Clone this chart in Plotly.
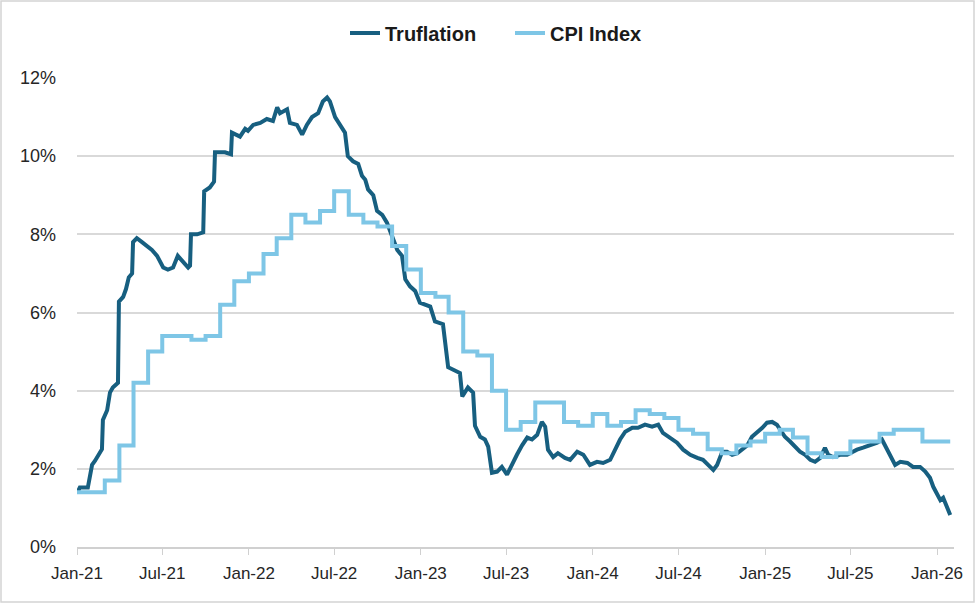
import plotly.graph_objects as go

# ---------------- data ----------------
tru_dates = [
    "2021-01-01", "2021-01-07", "2021-01-24", "2021-02-02", "2021-02-08", "2021-02-23", "2021-02-25",
    "2021-03-06", "2021-03-12", "2021-03-18", "2021-03-29", "2021-03-31", "2021-04-09", "2021-04-15",
    "2021-04-21", "2021-04-28", "2021-04-30", "2021-05-08", "2021-05-19", "2021-05-30", "2021-06-09",
    "2021-06-20", "2021-06-26", "2021-07-03", "2021-07-13", "2021-07-24", "2021-08-03", "2021-08-14",
    "2021-08-25", "2021-08-29", "2021-08-31", "2021-09-13", "2021-09-26", "2021-09-28", "2021-10-10",
    "2021-10-19", "2021-10-21", "2021-11-11", "2021-11-24", "2021-11-26", "2021-12-13", "2021-12-24",
    "2021-12-30", "2022-01-10", "2022-01-25", "2022-02-08", "2022-02-21", "2022-03-02", "2022-03-08",
    "2022-03-23", "2022-03-29", "2022-04-13", "2022-04-24", "2022-05-04", "2022-05-15", "2022-05-28",
    "2022-06-07", "2022-06-16", "2022-06-22", "2022-07-03", "2022-07-13", "2022-07-24", "2022-07-30",
    "2022-08-10", "2022-08-21", "2022-08-29", "2022-09-05", "2022-09-11", "2022-09-22", "2022-09-30",
    "2022-10-11", "2022-10-21", "2022-11-01", "2022-11-12", "2022-11-22", "2022-11-29", "2022-12-09",
    "2022-12-20", "2022-12-30", "2023-01-21", "2023-01-31", "2023-02-17", "2023-02-28", "2023-03-15",
    "2023-03-25", "2023-03-30", "2023-04-11", "2023-04-22", "2023-04-26", "2023-05-07", "2023-05-17",
    "2023-05-24", "2023-06-01", "2023-06-12", "2023-06-22", "2023-07-03", "2023-07-14", "2023-07-24",
    "2023-08-04", "2023-08-15", "2023-08-25", "2023-09-05", "2023-09-15", "2023-09-22", "2023-09-28",
    "2023-10-09", "2023-10-19", "2023-11-03", "2023-11-14", "2023-11-29", "2023-12-12", "2023-12-26",
    "2024-01-10", "2024-01-23", "2024-02-07", "2024-02-17", "2024-02-28", "2024-03-10", "2024-03-25",
    "2024-04-06", "2024-04-21", "2024-05-06", "2024-05-19", "2024-05-29", "2024-06-13", "2024-06-28",
    "2024-07-11", "2024-07-26", "2024-08-10", "2024-08-22", "2024-09-02", "2024-09-13", "2024-09-21",
    "2024-10-02", "2024-10-12", "2024-10-23", "2024-11-03", "2024-11-13", "2024-11-24", "2024-12-04",
    "2024-12-15", "2024-12-26", "2025-01-05", "2025-01-16", "2025-01-26", "2025-02-02", "2025-02-12",
    "2025-02-23", "2025-03-06", "2025-03-16", "2025-03-27", "2025-04-07", "2025-04-17", "2025-04-28",
    "2025-05-08", "2025-05-15", "2025-05-25", "2025-06-09", "2025-06-24", "2025-07-05", "2025-07-15",
    "2025-07-28", "2025-08-12", "2025-08-27", "2025-09-06", "2025-09-13", "2025-09-23", "2025-10-04",
    "2025-10-15", "2025-10-30", "2025-11-11", "2025-11-26", "2025-12-07", "2025-12-17", "2025-12-24",
    "2026-01-01", "2026-01-08", "2026-01-14", "2026-01-23", "2026-01-29",
]
tru_values = [
    1.38, 1.52, 1.52, 2.10, 2.20, 2.50, 3.25,
    3.50, 3.95, 4.08, 4.20, 6.28, 6.40, 6.60,
    6.90, 7.00, 7.80, 7.90, 7.80, 7.70, 7.60,
    7.45, 7.30, 7.15, 7.10, 7.15, 7.45, 7.30,
    7.15, 7.20, 8.00, 8.00, 8.05, 9.10, 9.20,
    9.35, 10.10, 10.10, 10.05, 10.60, 10.50, 10.70,
    10.65, 10.80, 10.85, 10.95, 10.90, 11.25, 11.10,
    11.20, 10.85, 10.80, 10.55, 10.80, 11.00, 11.10,
    11.40, 11.50, 11.40, 11.00, 10.80, 10.60, 10.00,
    9.87, 9.80, 9.50, 9.40, 9.15, 9.00, 8.60,
    8.50, 8.30, 7.95, 7.60, 7.45, 6.85, 6.67,
    6.55, 6.25, 6.15, 5.77, 5.70, 4.60, 4.50,
    4.45, 3.85, 4.08, 3.95, 3.10, 2.82, 2.75,
    2.57, 1.90, 1.93, 2.05, 1.85, 2.15, 2.36,
    2.60, 2.80, 2.75, 2.87, 3.20, 3.08, 2.49,
    2.30, 2.40, 2.28, 2.23, 2.44, 2.36, 2.10,
    2.18, 2.15, 2.23, 2.50, 2.75, 2.95, 3.05,
    3.05, 3.13, 3.08, 3.13, 2.92, 2.80, 2.67,
    2.49, 2.36, 2.28, 2.23, 2.10, 1.97, 2.10,
    2.44, 2.44, 2.36, 2.40, 2.49, 2.60, 2.82,
    2.92, 3.05, 3.18, 3.20, 3.13, 3.00, 2.82,
    2.70, 2.57, 2.44, 2.36, 2.23, 2.18, 2.28,
    2.54, 2.36, 2.30, 2.36, 2.36, 2.44, 2.49,
    2.54, 2.60, 2.67, 2.75, 2.60, 2.36, 2.10,
    2.18, 2.15, 2.05, 2.05, 1.93, 1.77, 1.54,
    1.33, 1.20, 1.26, 1.00, 0.82,
]

cpi_dates = [
    "2021-01-01", "2021-02-01", "2021-03-01", "2021-04-01", "2021-05-01", "2021-06-01",
    "2021-07-01", "2021-08-01", "2021-09-01", "2021-10-01", "2021-11-01", "2021-12-01",
    "2022-01-01", "2022-02-01", "2022-03-01", "2022-04-01", "2022-05-01", "2022-06-01",
    "2022-07-01", "2022-08-01", "2022-09-01", "2022-10-01", "2022-11-01", "2022-12-01",
    "2023-01-01", "2023-02-01", "2023-03-01", "2023-04-01", "2023-05-01", "2023-06-01",
    "2023-07-01", "2023-08-01", "2023-09-01", "2023-10-01", "2023-11-01", "2023-12-01",
    "2024-01-01", "2024-02-01", "2024-03-01", "2024-04-01", "2024-05-01", "2024-06-01",
    "2024-07-01", "2024-08-01", "2024-09-01", "2024-10-01", "2024-11-01", "2024-12-01",
    "2025-01-01", "2025-02-01", "2025-03-01", "2025-04-01", "2025-05-01", "2025-06-01",
    "2025-07-01", "2025-08-01", "2025-09-01", "2025-10-01", "2025-11-01", "2025-12-01",
    "2026-01-01", "2026-01-29",
]
cpi_values = [
    1.4, 1.4, 1.7, 2.6, 4.2, 5.0,
    5.4, 5.4, 5.3, 5.4, 6.2, 6.8,
    7.0, 7.5, 7.9, 8.5, 8.3, 8.6,
    9.1, 8.5, 8.3, 8.2, 7.7, 7.1,
    6.5, 6.4, 6.0, 5.0, 4.9, 4.0,
    3.0, 3.2, 3.7, 3.7, 3.2, 3.1,
    3.4, 3.1, 3.2, 3.5, 3.4, 3.3,
    3.0, 2.9, 2.5, 2.4, 2.6, 2.7,
    2.9, 3.0, 2.8, 2.4, 2.3, 2.4,
    2.7, 2.7, 2.9, 3.0, 3.0, 2.7,
    2.7, 2.7,
]

tick_dates = ["2021-01-01", "2021-07-01", "2022-01-01", "2022-07-01", "2023-01-01", "2023-07-01",
              "2024-01-01", "2024-07-01", "2025-01-01", "2025-07-01", "2026-01-01"]
tick_labels = ["Jan-21", "Jul-21", "Jan-22", "Jul-22", "Jan-23", "Jul-23",
               "Jan-24", "Jul-24", "Jan-25", "Jul-25", "Jan-26"]
y_ticks = [0, 2, 4, 6, 8, 10, 12]
y_labels = ["0%", "2%", "4%", "6%", "8%", "10%", "12%"]

DARK = "#175f80"
LIGHT = "#7ec6e6"

fig = go.Figure()
fig.add_trace(go.Scatter(x=tru_dates, y=tru_values, mode="lines", name="Truflation",
                         line=dict(color=DARK, width=4)))
fig.add_trace(go.Scatter(x=cpi_dates, y=cpi_values, mode="lines", name="CPI Index",
                         line=dict(color=LIGHT, width=4, shape="hv")))

W, H = 975, 603
L, R, T, B = 77, 21, 78, 56
pw, ph = W - L - R, H - T - B

fig.update_layout(
    width=W, height=H,
    margin=dict(l=L, r=R, t=T, b=B),
    paper_bgcolor="white", plot_bgcolor="white",
    font=dict(family="Liberation Sans, Arial, sans-serif", size=18, color="#262626"),
    showlegend=True,
    legend=dict(orientation="h", x=(350 - 5 - L) / pw, xanchor="left", y=1 + 45 / ph, yanchor="middle",
                font=dict(size=20, color="#1a1a1a", family="Liberation Sans, Arial, sans-serif",
                          weight="bold"),
                entrywidth=120, entrywidthmode="pixels",
                tracegroupgap=0, bgcolor="rgba(0,0,0,0)"),
    xaxis=dict(type="date", range=["2021-01-01", "2026-02-06"],
               tickvals=tick_dates, ticktext=tick_labels,
               showgrid=False, zeroline=False,
               showline=True, linecolor="#d0d0d0", linewidth=1.5,
               ticks="outside", ticklen=6, tickcolor="#d0d0d0", tickwidth=1,
               ticklabelstandoff=4,
               tickfont=dict(family="Liberation Sans, Arial, sans-serif", size=17, color="#262626")),
    yaxis=dict(range=[0, 12], tickvals=y_ticks, ticktext=y_labels,
               showgrid=True, gridcolor="#d9d9d9", gridwidth=1.5,
               zeroline=False, showline=False, ticks="", ticklabelstandoff=20,
               tickfont=dict(size=18, color="#262626")),
    shapes=[dict(type="rect", xref="paper", yref="paper",
                 x0=(1 - L) / pw, x1=(W - 1 - L) / pw,
                 y0=-(B - 1) / ph, y1=1 + (T - 1) / ph,
                 line=dict(color="#d4d4d4", width=1.5), fillcolor="rgba(0,0,0,0)", layer="below")],
)

fig.write_html("out.html", config={"displayModeBar": False},
               post_script="document.body.style.margin='0';document.body.style.overflow='hidden';")
